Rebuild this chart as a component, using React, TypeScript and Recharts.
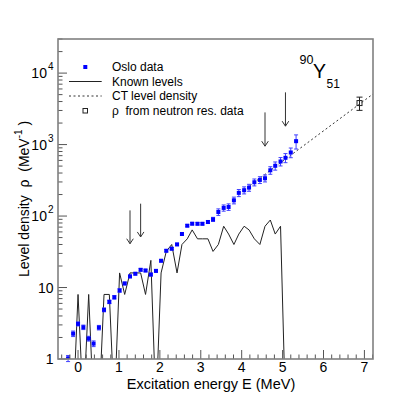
import React from 'react';
import { ComposedChart, Line, Scatter, XAxis, YAxis, ErrorBar, ReferenceLine } from 'recharts';

// ---- Data ----
const energies = [-0.244, -0.12, 0.0, 0.13, 0.26, 0.38, 0.51, 0.635, 0.765, 0.887, 1.016, 1.14, 1.27, 1.40, 1.53, 1.65, 1.78, 1.905, 2.03, 2.157, 2.29, 2.42, 2.54, 2.67, 2.79, 2.92, 3.04, 3.175, 3.30, 3.43, 3.56, 3.68, 3.81, 3.93, 4.06, 4.18, 4.31, 4.445, 4.57, 4.70, 4.82, 4.95, 5.07, 5.20, 5.33];
const osloRho = [1.02, 2.26, 3.1, 2.78, 1.93, 1.64, 2.75, 4.87, 6.3, 7.3, 9.1, 11.4, 14.3, 15.6, 17.7, 17.3, 15.2, 17.1, 23.7, 32.7, 34.9, 40.1, 56.1, 73.3, 78.2, 78, 78, 82.6, 89.9, 114, 130, 134, 166, 211, 230, 250, 297, 320, 338, 437, 505, 580, 653, 775, 1116];
const osloErr = [0.1, 0.2, 0.2, 0.2, 0.15, 0.15, 0.2, 0.3, 0.35, 0.4, 0.5, 0.5, 0.6, 0.6, 0.7, 0.7, 0.7, 0.7, 0.9, 1.2, 1.3, 1.5, 2, 2.5, 3, 3, 3, 4, 6, 12, 13, 14, 18, 24, 26, 28, 33, 35, 38, 53, 66, 78, 95, 120, 250];
const knownLevels = [0, 0, 8, 0, 8, 0, 0, 8, 8, 0, 16, 8, 16, 16, 16, 8, 24, 0, 16, 32, 40, 16, 40, 48, 64, 48, 48, 48, 32, 40, 72, 56, 40, 56, 72, 64, 48, 40, 72, 88, 56, 72, 0];
const ctEnergies = [4.2, 7.3];
const ctRho = [266, 5570];
const neutronE = [6.88];
const neutronRho = [3810];
const neutronErr = [800];
const arrowE = [1.27, 1.53, 4.57, 5.07];
const arrowTop = [120, 149, 2820, 5380];
const arrowBottom = [41, 51, 950, 1810];
const xTicks = [-0.4, -0.2, 0, 0.2, 0.4, 0.6, 0.8, 1, 1.2, 1.4, 1.6, 1.8, 2, 2.2, 2.4, 2.6, 2.8, 3, 3.2, 3.4, 3.6, 3.8, 4, 4.2, 4.4, 4.6, 4.8, 5, 5.2, 5.4, 5.6, 5.8, 6, 6.2, 6.4, 6.6, 6.8, 7, 7.2];
const xLabelTicks = [0, 1, 2, 3, 4, 5, 6, 7];
const yTicks = [1, 2, 3, 4, 5, 6, 7, 8, 9, 10, 20, 30, 40, 50, 60, 70, 80, 90, 100, 200, 300, 400, 500, 600, 700, 800, 900, 1000, 2000, 3000, 4000, 5000, 6000, 7000, 8000, 9000, 10000, 20000, 30000];
const yLabelTicks = [1, 10, 100, 1000, 10000];
const yLabelBase = ['1', '10', '10', '10', '10'];
const yLabelExp = ['', '', '2', '3', '4'];

// ---- Layout ----
const W = 415;
const H = 399;
const PL = 58, PT = 39, PR = 373, PB = 359;
const YAXIS_W = 50;
const XAXIS_H = 30;
const FONT = 'Liberation Sans, Arial, Helvetica, sans-serif';
const ZERO_FLOOR = 0.2; // empty bins drawn down past the log-axis bottom
const NB = '\u00A0';

const osloData = energies.map((E, i) => ({ E, y: osloRho[i], err: osloErr[i] }));
const knownData = knownLevels.map((v, i) => ({ E: energies[i], y: v > 0 ? v : ZERO_FLOOR }));
const ctData = ctEnergies.map((E, i) => ({ E, y: ctRho[i] }));
const neutronData = neutronE.map((E, i) => ({ E, y: neutronRho[i], err: neutronErr[i] }));

const near = (a: number, b: number) => Math.abs(a - b) < 1e-6;

const renderXTick = (props: any) => {
  const { x, y, payload } = props;
  const v = payload.value;
  const major = xLabelTicks.some((t) => near(t, v));
  return (
    <g key={`xt-${v}`}>
      <line x1={x} y1={y} x2={x} y2={y - (major ? 9 : 4.5)} stroke="#555" strokeWidth={1} />
      {major && (
        <text x={x} y={y + 13} textAnchor="middle" fontSize={14} fontFamily={FONT} fill="#000">
          {String(v)}
        </text>
      )}
    </g>
  );
};

const renderYTick = (props: any) => {
  const { x, y, payload } = props;
  const v = payload.value;
  const idx = yLabelTicks.findIndex((t) => near(t, v));
  const major = idx >= 0;
  return (
    <g key={`yt-${v}`}>
      <line x1={x} y1={y} x2={x + (major ? 9 : 4.5)} y2={y} stroke="#555" strokeWidth={1} />
      {major && (
        <text x={x - 4.5} y={y + 5} textAnchor="end" fontSize={14} fontFamily={FONT} fill="#000">
          {yLabelBase[idx]}
          {yLabelExp[idx] && (
            <tspan fontSize={10} dy={-8} dx={1}>{yLabelExp[idx]}</tspan>
          )}
        </text>
      )}
    </g>
  );
};

const OsloShape = (props: any) => {
  const { cx, cy } = props;
  if (cx == null || cy == null) return null;
  return <rect x={cx - 2} y={cy - 2} width={4} height={4} fill="#0000ff" />;
};

const OpenSquare = (props: any) => {
  const { cx, cy } = props;
  if (cx == null || cy == null) return null;
  return <rect x={cx - 2.5} y={cy - 2.5} width={5} height={5} fill="none" stroke="#222" strokeWidth={1} />;
};

const ArrowShape = (props: any) => {
  const { x1, y1, x2, y2 } = props;
  if (x1 == null) return null;
  const top = Math.min(y1, y2);
  const bot = Math.max(y1, y2);
  return (
    <g>
      <line x1={x1} y1={top} x2={x2} y2={bot} stroke="#333" strokeWidth={1} />
      <polyline points={`${x1 - 3.3},${bot - 5} ${x1},${bot} ${x1 + 3.3},${bot - 5}`} fill="none" stroke="#333" strokeWidth={1} />
    </g>
  );
};

export default function App() {
  return (
    <div style={{ position: 'absolute', left: 0, top: 0, width: W, height: H, background: '#fff' }}>
      <ComposedChart
        width={W}
        height={H}
        margin={{ top: PT, left: PL - YAXIS_W, right: W - PR, bottom: H - PB - XAXIS_H }}
      >
        <XAxis
          type="number"
          dataKey="E"
          domain={[-0.49, 7.21]}
          allowDataOverflow
          ticks={xTicks}
          interval={0}
          height={XAXIS_H}
          axisLine={false}
          tickLine={false}
          tickSize={0}
          tickMargin={0}
          tick={renderXTick}
        />
        <YAxis
          type="number"
          dataKey="y"
          scale="log"
          domain={[1, 30000]}
          allowDataOverflow
          ticks={yTicks}
          interval={0}
          width={YAXIS_W}
          axisLine={false}
          tickLine={false}
          tickSize={0}
          tickMargin={0}
          tick={renderYTick}
        />
        <Line
          data={knownData}
          dataKey="y"
          type="linear"
          stroke="#222"
          strokeWidth={1}
          dot={false}
          isAnimationActive={false}
        />
        <Line
          data={ctData}
          dataKey="y"
          type="linear"
          stroke="#333"
          strokeWidth={1}
          strokeDasharray="2 2.5"
          dot={false}
          isAnimationActive={false}
        />
        <Scatter data={osloData} dataKey="y" shape={<OsloShape />} isAnimationActive={false}>
          <ErrorBar dataKey="err" direction="y" width={2} stroke="#4040ff" strokeWidth={1} />
        </Scatter>
        <Scatter data={neutronData} dataKey="y" shape={<OpenSquare />} isAnimationActive={false}>
          <ErrorBar dataKey="err" direction="y" width={3} stroke="#222" strokeWidth={1} />
        </Scatter>
        {arrowE.map((E, i) => (
          <ReferenceLine
            key={i}
            segment={[{ x: E, y: arrowTop[i] }, { x: E, y: arrowBottom[i] }]}
            shape={ArrowShape}
            stroke="#333"
          />
        ))}
      </ComposedChart>
      <svg
        width={W}
        height={H}
        style={{ position: 'absolute', left: 0, top: 0, pointerEvents: 'none' }}
      >
        <rect x={PL} y={PT} width={PR - PL} height={PB - PT} fill="none" stroke="#808080" strokeWidth={1.6} />
        {/* axis titles */}
        <text x={211} y={388.5} textAnchor="middle" fontSize={14.5} fontFamily={FONT} fill="#000">
          Excitation energy E (MeV)
        </text>
        <text transform="translate(28.5,277) rotate(-90)" x={0} y={0} fontSize={14} fontFamily={FONT} fill="#000">
          {`Level density ${NB}ρ ${NB}(MeV`}
          <tspan fontSize={10} dy={-7}>-1</tspan>
          <tspan dy={7}>{`${NB})`}</tspan>
        </text>
        {/* nucleus label */}
        <text x={299.5} y={63.5} fontSize={12.5} fontFamily={FONT} fill="#000">90</text>
        <text x={313} y={77.5} fontSize={19.5} fontFamily={FONT} fill="#000">Y</text>
        <text x={326.5} y={87.5} fontSize={12} fontFamily={FONT} fill="#000">51</text>
        {/* legend */}
        <rect x={83.3} y={65} width={4} height={4} fill="#0000ff" />
        <text x={112} y={71} fontSize={12} fontFamily={FONT} fill="#000">Oslo data</text>
        <line x1={69} y1={81.5} x2={101.7} y2={81.5} stroke="#222" strokeWidth={1} />
        <text x={112} y={85.6} fontSize={12} fontFamily={FONT} fill="#000">Known levels</text>
        <line x1={69} y1={96} x2={101.7} y2={96} stroke="#333" strokeWidth={1} strokeDasharray="2 2.5" />
        <text x={112} y={100.2} fontSize={12} fontFamily={FONT} fill="#000">CT level density</text>
        <rect x={83} y={108.5} width={4.5} height={4.5} fill="none" stroke="#222" strokeWidth={1} />
        <text x={112} y={115} fontSize={12} fontFamily={FONT} fill="#000">{`ρ ${NB}from neutron res. data`}</text>
      </svg>
    </div>
  );
}
